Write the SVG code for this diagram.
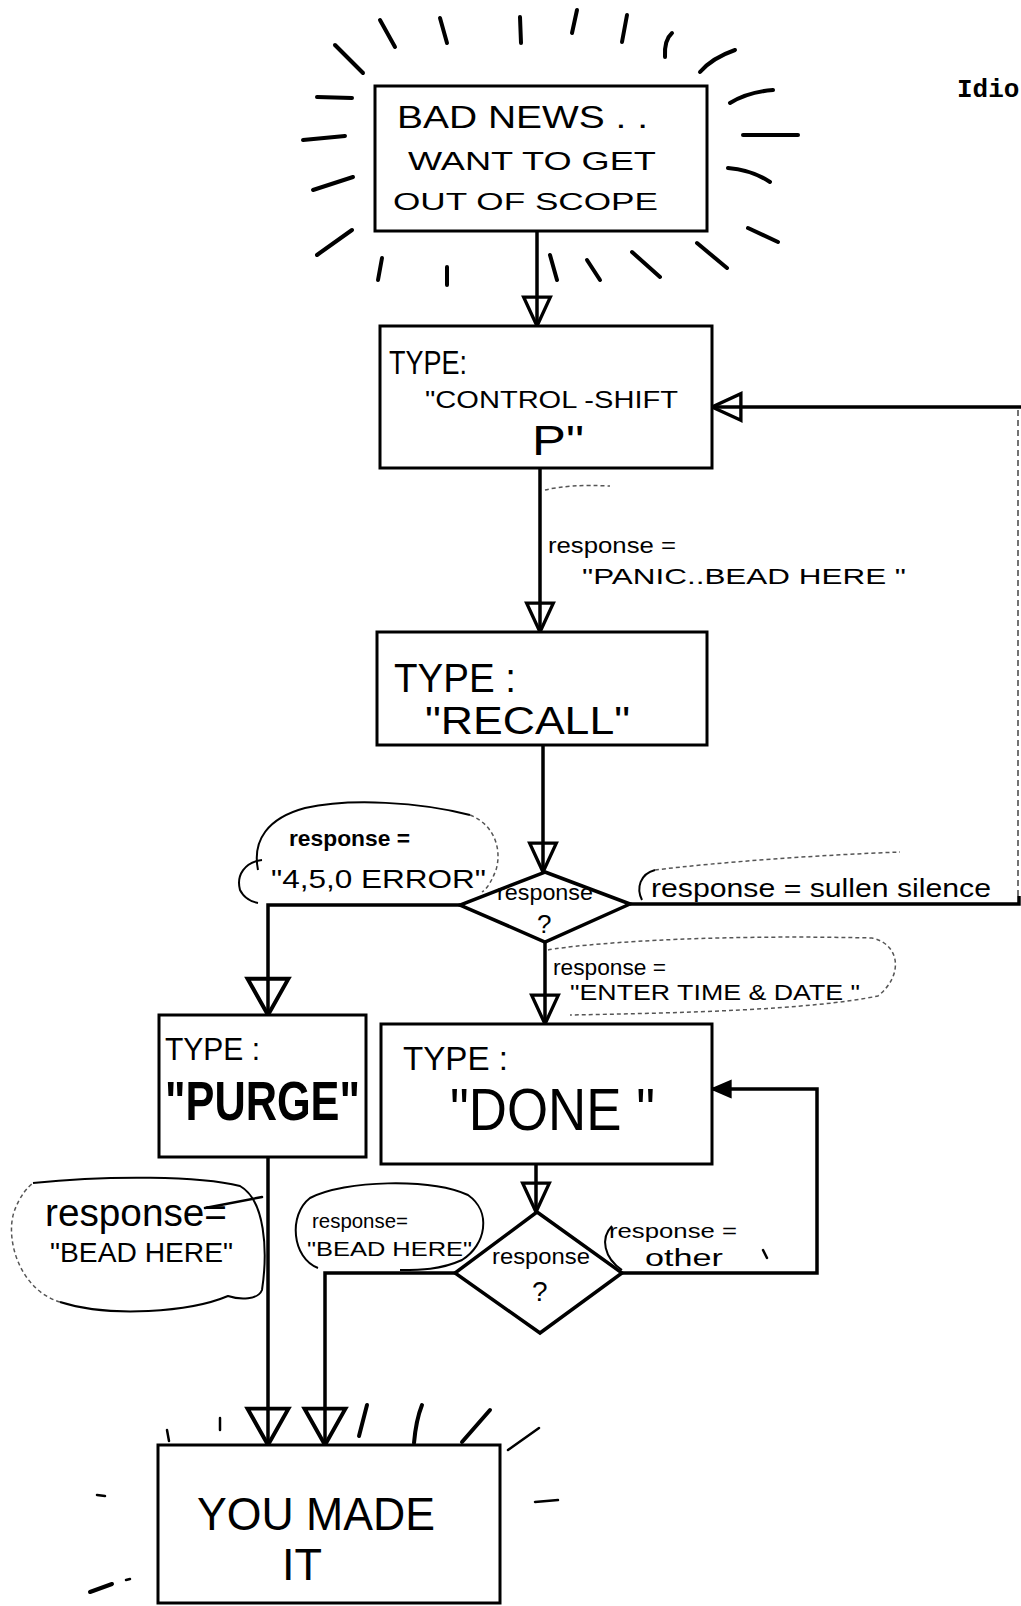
<svg xmlns="http://www.w3.org/2000/svg" width="1021" height="1606" viewBox="0 0 1021 1606">
<style>
.box{fill:#fff;stroke:#000;stroke-width:3}
.dia{fill:#fff;stroke:#000;stroke-width:3.5;stroke-linejoin:miter}
.ray{stroke:#000;stroke-width:4;stroke-linecap:round;fill:none}
.ray2{stroke:#000;stroke-width:2.5;stroke-linecap:round;fill:none}
.conn{fill:none;stroke:#000;stroke-width:3.5}
.connf{fill:none;stroke:#444;stroke-width:1.5;stroke-dasharray:6 4}
.bub{fill:none;stroke:#000;stroke-width:2}
.bubd{fill:none;stroke:#555;stroke-width:1.5;stroke-dasharray:4 3}
text{font-family:"Liberation Sans",Arial,sans-serif;fill:#000}
.lbl{font-size:22px}
.idio{font-family:"Liberation Mono","Courier New",monospace;font-weight:bold;font-size:26px}
</style>
<defs>
<marker id="open" markerUnits="userSpaceOnUse" markerWidth="40" markerHeight="40" viewBox="-32 -16 36 32" refX="0" refY="0" orient="auto">
<path d="M-26,-12 L0,0 L-26,12 Z" fill="none" stroke="#000" stroke-width="3"/>
</marker>
<marker id="openbig" markerUnits="userSpaceOnUse" markerWidth="50" markerHeight="50" viewBox="-38 -22 42 44" refX="0" refY="0" orient="auto">
<path d="M-32,-18 L0,0 L-32,18 Z" fill="none" stroke="#000" stroke-width="3.5"/>
</marker>
<marker id="small" markerUnits="userSpaceOnUse" markerWidth="24" markerHeight="24" viewBox="-16 -8 18 16" refX="0" refY="0" orient="auto">
<path d="M-14,-6 L0,0 L-14,6 Z" fill="#000" stroke="#000" stroke-width="1.5"/>
</marker>
</defs>
<rect width="1021" height="1606" fill="#fff"/>

<text class="idio" x="957" y="97">Idio</text>

<g id="rays-top">
<line class="ray" x1="335" y1="45" x2="363" y2="73"/>
<line class="ray" x1="380" y1="20" x2="395" y2="47"/>
<line class="ray" x1="440" y1="18" x2="447" y2="43"/>
<line class="ray" x1="520" y1="17" x2="521" y2="43"/>
<line class="ray" x1="577" y1="10" x2="572" y2="33"/>
<line class="ray" x1="627" y1="15" x2="622" y2="42"/>
<path class="ray" d="M672,33 Q664,40 665,57"/>
<path class="ray" d="M735,50 Q712,58 700,72"/>
<path class="ray" d="M773,90 Q748,92 730,103"/>
<line class="ray" x1="743" y1="135" x2="798" y2="135"/>
<path class="ray" d="M728,168 Q752,170 770,182"/>
<line class="ray" x1="748" y1="228" x2="778" y2="242"/>
<line class="ray" x1="697" y1="243" x2="727" y2="268"/>
<line class="ray" x1="632" y1="252" x2="660" y2="277"/>
<line class="ray" x1="587" y1="260" x2="600" y2="280"/>
<line class="ray" x1="550" y1="255" x2="557" y2="280"/>
<line class="ray" x1="447" y1="267" x2="447" y2="285"/>
<line class="ray" x1="382" y1="258" x2="378" y2="280"/>
<line class="ray" x1="317" y1="255" x2="352" y2="230"/>
<line class="ray" x1="313" y1="190" x2="353" y2="177"/>
<line class="ray" x1="303" y1="140" x2="345" y2="136"/>
<line class="ray" x1="317" y1="97" x2="352" y2="98"/>
</g>

<g id="connectors">
<path class="conn" d="M537,231 V326" marker-end="url(#open)"/>
<path class="conn" d="M540,468 V632" marker-end="url(#open)"/>
<path class="conn" d="M543,745 V872" marker-end="url(#open)"/>
<path class="conn" d="M460,905 H268 V1015" marker-end="url(#openbig)"/>
<path class="conn" d="M630,904 H1019 V896"/>
<path class="connf" d="M1018,896 V407"/>
<path class="conn" d="M1021,407 H712" marker-end="url(#open)"/>
<path class="conn" d="M545,942 V1024" marker-end="url(#open)"/>
<path class="conn" d="M536,1164 V1212" marker-end="url(#open)"/>
<path class="conn" d="M622,1273 H817 V1089 H712" marker-end="url(#small)"/>
<path class="conn" d="M455,1273 H325 V1445" marker-end="url(#openbig)"/>
<path class="conn" d="M268,1157 V1445" marker-end="url(#openbig)"/>
</g>

<g id="n-badnews">
<rect class="box" x="375" y="86" width="332" height="145"/>
<text x="397" y="128" font-size="32" textLength="251" lengthAdjust="spacingAndGlyphs">BAD NEWS . .</text>
<text x="408" y="170" font-size="25" textLength="248" lengthAdjust="spacingAndGlyphs">WANT TO GET</text>
<text x="393" y="210" font-size="24" textLength="265" lengthAdjust="spacingAndGlyphs">OUT OF SCOPE</text>
</g>

<g id="n-ctrlshift">
<rect class="box" x="380" y="326" width="332" height="142"/>
<text x="389" y="374" font-size="34" textLength="78" lengthAdjust="spacingAndGlyphs">TYPE:</text>
<text x="425" y="408" font-size="24" textLength="253" lengthAdjust="spacingAndGlyphs">"CONTROL -SHIFT</text>
<text x="532" y="455" font-size="42" textLength="52" lengthAdjust="spacingAndGlyphs">P"</text>
</g>

<g id="lbl-panic">
<path class="bubd" d="M545,490 Q570,484 610,486"/>
<text class="lbl" x="548" y="553" textLength="128" lengthAdjust="spacingAndGlyphs">response =</text>
<text class="lbl" x="582" y="584" textLength="324" lengthAdjust="spacingAndGlyphs">"PANIC..BEAD HERE "</text>
</g>

<g id="n-recall">
<rect class="box" x="377" y="632" width="330" height="113"/>
<text x="394" y="692" font-size="40" textLength="122" lengthAdjust="spacingAndGlyphs">TYPE :</text>
<text x="425" y="734" font-size="38" textLength="205" lengthAdjust="spacingAndGlyphs">"RECALL"</text>
</g>

<g id="n-dec1">
<path class="dia" d="M545,872 L630,904 L545,942 L460,905 Z"/>
<text class="lbl" x="497" y="900" font-size="20" textLength="96" lengthAdjust="spacingAndGlyphs">response</text>
<text x="537" y="933" font-size="26">?</text>
</g>

<g id="lbl-error">
<path class="bub" d="M258,870 C252,840 268,818 305,808 C350,798 420,802 470,815"/>
<path class="bubd" d="M470,815 C495,825 502,850 496,870 C492,880 488,888 482,892"/>
<path class="bub" d="M262,860 C245,862 236,875 240,890 C244,898 252,902 258,903"/>
<text x="289" y="846" font-size="22" font-weight="bold" textLength="121" lengthAdjust="spacingAndGlyphs">response =</text>
<text x="271" y="888" font-size="26" textLength="215" lengthAdjust="spacingAndGlyphs">"4,5,0 ERROR"</text>
</g>

<g id="lbl-silence">
<path class="bub" d="M642,900 C636,888 640,874 655,870"/>
<path class="bubd" d="M655,870 C720,862 820,855 900,852"/>
<text x="651" y="897" font-size="25" textLength="340" lengthAdjust="spacingAndGlyphs">response = sullen silence</text>
</g>

<g id="lbl-enter">
<path class="bubd" d="M548,950 C580,944 700,934 872,938 C900,944 904,975 878,996 C810,1010 680,1013 570,1015"/>
<text class="lbl" x="553" y="975" textLength="113" lengthAdjust="spacingAndGlyphs">response =</text>
<text class="lbl" x="570" y="1000" textLength="290" lengthAdjust="spacingAndGlyphs">"ENTER TIME &amp; DATE "</text>
</g>

<g id="n-purge">
<rect class="box" x="159" y="1015" width="207" height="142"/>
<text x="165" y="1060" font-size="32" textLength="95" lengthAdjust="spacingAndGlyphs">TYPE :</text>
<text x="165" y="1120" font-size="56" font-weight="bold" textLength="195" lengthAdjust="spacingAndGlyphs">"PURGE"</text>
</g>

<g id="n-done">
<rect class="box" x="381" y="1024" width="331" height="140"/>
<text x="403" y="1070" font-size="34" textLength="105" lengthAdjust="spacingAndGlyphs">TYPE :</text>
<text x="450" y="1130" font-size="60" textLength="205" lengthAdjust="spacingAndGlyphs">"DONE "</text>
</g>

<g id="n-dec2">
<path class="dia" d="M537,1212 L622,1273 L540,1333 L455,1273 Z"/>
<text class="lbl" x="492" y="1264" font-size="20" textLength="98" lengthAdjust="spacingAndGlyphs">response</text>
<text x="532" y="1301" font-size="28">?</text>
</g>

<g id="lbl-beachere">
<path class="bub" d="M318,1268 C292,1258 288,1215 310,1198 C345,1180 430,1178 468,1195 C492,1212 486,1245 462,1260 C440,1270 420,1270 400,1270"/>
<text x="312" y="1228" font-size="21" textLength="96" lengthAdjust="spacingAndGlyphs">response=</text>
<text x="307" y="1256" font-size="21" textLength="165" lengthAdjust="spacingAndGlyphs">"BEAD HERE"</text>
</g>

<g id="lbl-other">
<path class="bub" d="M622,1270 C604,1258 600,1238 612,1226"/>
<line class="ray2" x1="763" y1="1250" x2="767" y2="1258"/>
<text x="609" y="1238" font-size="20" textLength="128" lengthAdjust="spacingAndGlyphs">response =</text>
<text x="645" y="1266" font-size="23" textLength="78" lengthAdjust="spacingAndGlyphs">other</text>
</g>

<g id="lbl-beadhere">
<path class="bub" d="M33,1183 C110,1175 200,1176 240,1186 C265,1200 268,1250 262,1290 C258,1300 240,1300 228,1296 C190,1312 110,1318 60,1302"/>
<path class="bubd" d="M60,1302 C20,1290 5,1240 14,1212 C20,1195 28,1187 33,1183"/>
<line class="ray2" x1="205" y1="1208" x2="262" y2="1197"/>
<text x="45" y="1226" font-size="38" textLength="182" lengthAdjust="spacingAndGlyphs">response=</text>
<text x="50" y="1262" font-size="27" textLength="183" lengthAdjust="spacingAndGlyphs">"BEAD HERE"</text>
</g>

<g id="rays-bottom">
<line class="ray2" x1="167" y1="1430" x2="169" y2="1441"/>
<line class="ray2" x1="220" y1="1418" x2="220" y2="1430"/>
<line class="ray" x1="367" y1="1405" x2="359" y2="1436"/>
<path class="ray" d="M422,1405 Q416,1420 414,1443"/>
<line class="ray" x1="490" y1="1410" x2="462" y2="1442"/>
<line class="ray2" x1="539" y1="1428" x2="508" y2="1450"/>
<line class="ray2" x1="97" y1="1495" x2="105" y2="1496"/>
<line class="ray2" x1="535" y1="1502" x2="558" y2="1500"/>
<line class="ray" x1="90" y1="1592" x2="112" y2="1584"/>
<line class="ray2" x1="126" y1="1580" x2="130" y2="1579"/>
</g>

<g id="n-madeit">
<rect class="box" x="158" y="1445" width="342" height="158"/>
<text x="197" y="1530" font-size="46" textLength="238" lengthAdjust="spacingAndGlyphs">YOU MADE</text>
<text x="282" y="1580" font-size="44" textLength="40" lengthAdjust="spacingAndGlyphs">IT</text>
</g>
</svg>
